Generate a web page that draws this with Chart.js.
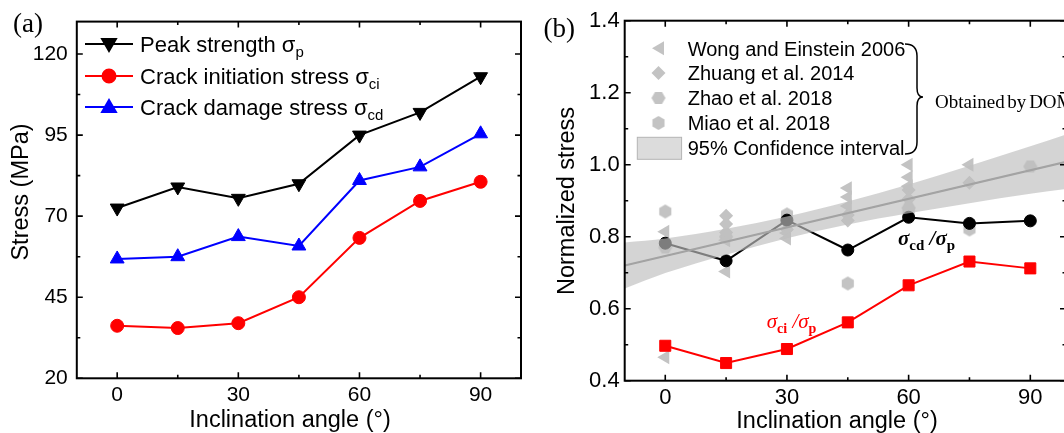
<!DOCTYPE html>
<html><head><meta charset="utf-8">
<script src="https://cdn.jsdelivr.net/npm/chart.js@4.4.0/dist/chart.umd.min.js"></script>
<style>
html,body{margin:0;padding:0;overflow:hidden;background:#fff;width:1064px;height:433px;}
#wa{position:absolute;left:0;top:0;width:530px;height:433px;}
#wb{position:absolute;left:530px;top:0;width:545px;height:433px;}
canvas{display:block;}
</style></head><body>
<div id="wa"><canvas id="ca" width="530" height="433" style="width:530px;height:433px"></canvas></div>
<div id="wb"><canvas id="cb" width="545" height="433" style="width:545px;height:433px"></canvas></div>
<script>
// ---------- data ----------
const angles = [0, 15, 30, 45, 60, 75, 90];
const peakStrength = [72.5, 79, 75.5, 80, 95, 102, 113];
const crackInitiation = [36.2, 35.5, 37.0, 45.0, 63.3, 74.7, 80.6];
const crackDamage = [56.8, 57.5, 63.7, 60.8, 81.0, 85.2, 95.4];

const ciRatio = [0.497, 0.449, 0.488, 0.562, 0.665, 0.731, 0.712];
const cdRatio = [0.782, 0.733, 0.846, 0.763, 0.854, 0.837, 0.844];

const wongX = [0, 0, 15, 15, 30, 30, 45, 45, 45, 60, 60, 60, 75];
const wongY = [0.814, 0.465, 0.79, 0.703, 0.81, 0.795, 0.935, 0.91, 0.885, 1.0, 0.965, 0.94, 1.0];
const zhuangX = [15, 15, 15, 30, 30, 45, 45, 60, 60, 75];
const zhuangY = [0.858, 0.835, 0.812, 0.84, 0.82, 0.86, 0.845, 0.93, 0.905, 0.95];
const zhaoX = [0, 15, 60, 90];
const zhaoY = [0.77, 0.80, 0.88, 0.995];
const miaoX = [0, 30, 45, 60, 75];
const miaoY = [0.87, 0.862, 0.67, 0.87, 0.82];

const bandX = [-10, 0, 15, 30, 45, 60, 75, 90, 100];
const bandUpper = [0.784, 0.795, 0.822, 0.856, 0.898, 0.945, 0.997, 1.051, 1.088];
const bandLower = [0.656, 0.699, 0.750, 0.796, 0.834, 0.865, 0.893, 0.919, 0.934];
const fitX = [-10, 100];
const fitY = [0.720, 1.011];

const xTicks = [0, 30, 60, 90];
const xMinorTicks = [15, 45, 75];
const aYTicks = [20, 45, 70, 95, 120];
const aYMinorTicks = [32.5, 57.5, 82.5, 107.5];
const bYTicks = [0.4, 0.6, 0.8, 1.0, 1.2, 1.4];
const bYMinorTicks = [0.5, 0.7, 0.9, 1.1, 1.3];

// ---------- helpers ----------
const SANS = '"Liberation Sans", Arial, sans-serif';
const SERIF = '"Liberation Serif", "Times New Roman", serif';
const GRAY = '#c3c3c3';
const zip = (xs, ys) => xs.map((x, i) => ({x: x, y: ys[i]}));

function hexImg(r, pointyTop, color) {
  const c = document.createElement('canvas');
  const s = Math.ceil(2 * r + 2);
  c.width = s; c.height = s;
  const g = c.getContext('2d');
  g.fillStyle = color;
  g.beginPath();
  for (let i = 0; i < 6; i++) {
    const ang = (pointyTop ? -Math.PI / 2 : 0) + i * Math.PI / 3;
    const px = s / 2 + r * Math.cos(ang), py = s / 2 + r * Math.sin(ang);
    if (i) g.lineTo(px, py); else g.moveTo(px, py);
  }
  g.closePath(); g.fill();
  return c;
}
const hexFlat = hexImg(7, false, GRAY);
const hexPointy = hexImg(7, true, GRAY);

function framePlugin(yMaj, yMin) {
  return {
    id: 'frameTicks',
    afterDatasetsDraw(chart) {
      const ctx = chart.ctx, a = chart.chartArea, xs = chart.scales.x, ys = chart.scales.y;
      ctx.save();
      ctx.strokeStyle = '#000';
      ctx.lineWidth = 1.6;
      ctx.beginPath();
      const seg = (x1, y1, x2, y2) => { ctx.moveTo(x1, y1); ctx.lineTo(x2, y2); };
      xTicks.forEach(v => { const p = xs.getPixelForValue(v); seg(p, a.bottom, p, a.bottom - 6); seg(p, a.top, p, a.top + 6); });
      xMinorTicks.forEach(v => { const p = xs.getPixelForValue(v); seg(p, a.bottom, p, a.bottom - 3.5); seg(p, a.top, p, a.top + 3.5); });
      yMaj.forEach(v => { const p = ys.getPixelForValue(v); seg(a.left, p, a.left + 6, p); seg(a.right, p, a.right - 6, p); });
      yMin.forEach(v => { const p = ys.getPixelForValue(v); seg(a.left, p, a.left + 3.5, p); seg(a.right, p, a.right - 3.5, p); });
      ctx.stroke();
      ctx.lineWidth = 2;
      ctx.strokeRect(a.left, a.top, a.right - a.left, a.bottom - a.top);
      ctx.restore();
    }
  };
}

function drawParts(ctx, x, parts) {
  let cx = x;
  parts.forEach(p => {
    ctx.font = p[1];
    ctx.fillStyle = p[3] || '#000';
    ctx.fillText(p[0], cx, p[2]);
    cx += ctx.measureText(p[0]).width;
  });
}

function xScale(h, font, max) {
  return {
    type: 'linear', min: -10, max: max,
    grid: {display: false, drawTicks: false}, border: {display: false},
    ticks: {font: font, color: '#000', padding: 4, autoSkip: false, maxRotation: 0},
    afterBuildTicks: s => { s.ticks = xTicks.map(v => ({value: v})); },
    afterFit: s => { s.height = h; }
  };
}

Chart.defaults.font.family = SANS;

// ---------- chart (a) ----------
const aLegend = {
  id: 'aLegend',
  afterDraw(chart) {
    const ctx = chart.ctx;
    ctx.save();
    const rows = [
      {y: 44, color: '#000', style: 'triangle', rot: 180, r: 8, label: 'Peak strength \u03c3', sub: 'p'},
      {y: 76, color: '#ff0000', style: 'circle', rot: 0, r: 6.5, label: 'Crack initiation stress \u03c3', sub: 'ci'},
      {y: 107, color: '#0000ff', style: 'triangle', rot: 0, r: 8, label: 'Crack damage stress \u03c3', sub: 'cd'}
    ];
    rows.forEach(r => {
      ctx.strokeStyle = r.color; ctx.fillStyle = r.color; ctx.lineWidth = 2;
      ctx.beginPath(); ctx.moveTo(85, r.y); ctx.lineTo(133, r.y); ctx.stroke();
      Chart.helpers.drawPoint(ctx, {pointStyle: r.style, rotation: r.rot, radius: r.r, borderWidth: 1}, 109, r.y + (r.style === 'triangle' ? (r.rot ? -1 : 1) : 0));
      ctx.textBaseline = 'alphabetic'; ctx.textAlign = 'left';
      drawParts(ctx, 140, [[r.label, '22px ' + SANS, r.y + 8, '#000'], [r.sub, '15px ' + SANS, r.y + 13, '#000']]);
    });
    ctx.fillStyle = '#000';
    ctx.font = '23.5px ' + SANS;
    ctx.textAlign = 'center'; ctx.textBaseline = 'alphabetic';
    ctx.fillText('Inclination angle (\u00b0)', 290, 427);
    ctx.save();
    ctx.translate(28, 192); ctx.rotate(-Math.PI / 2);
    ctx.fillText('Stress (MPa)', 0, 0);
    ctx.restore();
    ctx.textAlign = 'left';
    ctx.font = '27px ' + SERIF;
    ctx.fillText('(a)', 13, 32);
    ctx.restore();
  }
};

new Chart(document.getElementById('ca'), {
  type: 'scatter',
  data: {
    datasets: [
      {label: 'Peak strength', data: zip(angles, peakStrength), showLine: true, borderColor: '#000', backgroundColor: '#000',
       borderWidth: 2, pointStyle: 'triangle', rotation: 180, pointRadius: 8, pointBorderWidth: 1},
      {label: 'Crack initiation stress', data: zip(angles, crackInitiation), showLine: true, borderColor: '#ff0000', backgroundColor: '#ff0000',
       borderWidth: 2, pointStyle: 'circle', pointRadius: 6.5, pointBorderWidth: 1},
      {label: 'Crack damage stress', data: zip(angles, crackDamage), showLine: true, borderColor: '#0000ff', backgroundColor: '#0000ff',
       borderWidth: 2, pointStyle: 'triangle', pointRadius: 8, pointBorderWidth: 1}
    ]
  },
  options: {
    responsive: false, animation: false, devicePixelRatio: 1,
    layout: {padding: {left: 0, right: 7, top: 21, bottom: 0}},
    plugins: {legend: {display: false}, tooltip: {enabled: false}},
    scales: {
      x: xScale(54.7, {size: 21, family: SANS}, 100),
      y: {
        type: 'linear', min: 20, max: 130,
        grid: {display: false, drawTicks: false}, border: {display: false},
        ticks: {font: {size: 21, family: SANS}, color: '#000', padding: 9, autoSkip: false},
        afterBuildTicks: s => { s.ticks = aYTicks.map(v => ({value: v})); },
        afterFit: s => { s.width = 76.8; }
      }
    }
  },
  plugins: [framePlugin(aYTicks, aYMinorTicks), aLegend]
});

// ---------- chart (b) ----------
const bAnno = {
  id: 'bAnno',
  afterDraw(chart) {
    const ctx = chart.ctx;
    ctx.save();
    const rowY = [48.3, 73, 98, 123, 148];
    ctx.fillStyle = GRAY;
    Chart.helpers.drawPoint(ctx, {pointStyle: 'triangle', rotation: -90, radius: 8, borderWidth: 0}, 130, rowY[0]);
    Chart.helpers.drawPoint(ctx, {pointStyle: 'rectRot', rotation: 0, radius: 7, borderWidth: 0}, 128.5, rowY[1]);
    ctx.drawImage(hexFlat, 128.5 - hexFlat.width / 2, rowY[2] - hexFlat.height / 2);
    ctx.drawImage(hexPointy, 128.5 - hexPointy.width / 2, rowY[3] - hexPointy.height / 2);
    ctx.fillStyle = '#dcdcdc';
    ctx.fillRect(107.3, 137.3, 44.3, 22);
    ctx.strokeStyle = '#b4b4b4'; ctx.lineWidth = 1;
    ctx.strokeRect(107.3, 137.3, 44.3, 22);
    const labels = ['Wong and Einstein 2006', 'Zhuang et al. 2014', 'Zhao et al. 2018', 'Miao et al. 2018', '95% Confidence interval'];
    ctx.fillStyle = '#000';
    ctx.font = '20px ' + SANS;
    ctx.textAlign = 'left'; ctx.textBaseline = 'alphabetic';
    labels.forEach((t, i) => ctx.fillText(t, 157.7, rowY[i] + 7.2));
    // brace
    ctx.strokeStyle = '#000'; ctx.lineWidth = 1.5;
    ctx.beginPath();
    ctx.moveTo(375, 44);
    ctx.quadraticCurveTo(387, 44, 387, 56);
    ctx.lineTo(387, 88);
    ctx.quadraticCurveTo(387, 97, 393, 97);
    ctx.quadraticCurveTo(387, 97, 387, 106);
    ctx.lineTo(387, 142);
    ctx.quadraticCurveTo(387, 154, 375, 154);
    ctx.stroke();
    // Obtained by DOM
    ctx.fillStyle = '#000';
    ctx.font = '19px ' + SERIF;
    ctx.fillText('Obtained', 405, 108.3);
    const w1 = ctx.measureText('Obtained').width;
    ctx.fillText('by', 405 + w1 + 2.5, 108.3);
    const w2 = ctx.measureText('by').width;
    ctx.fillText('DOM', 405 + w1 + 2.5 + w2 + 3, 108.3);
    // ratio labels
    drawParts(ctx, 368, [
      ['\u03c3', 'bold italic 21px ' + SERIF, 245, '#000'],
      ['cd', 'bold 15px ' + SERIF, 250, '#000'],
      [' /', 'bold italic 21px ' + SERIF, 245, '#000'],
      ['\u03c3', 'bold italic 21px ' + SERIF, 245, '#000'],
      ['p', 'bold 15px ' + SERIF, 250, '#000']
    ]);
    drawParts(ctx, 236.7, [
      ['\u03c3', 'italic 21px ' + SERIF, 328, '#ff0000'],
      ['ci', 'bold 14px ' + SERIF, 333, '#ff0000'],
      [' /', 'italic 21px ' + SERIF, 328, '#ff0000'],
      ['\u03c3', 'italic 21px ' + SERIF, 328, '#ff0000'],
      ['p', 'bold 14px ' + SERIF, 333, '#ff0000']
    ]);
    ctx.fillStyle = '#000';
    ctx.font = '23.5px ' + SANS;
    ctx.textAlign = 'center';
    ctx.fillText('Inclination angle (\u00b0)', 307, 428);
    ctx.save();
    ctx.translate(44, 201); ctx.rotate(-Math.PI / 2);
    ctx.fillText('Normalized stress', 0, 0);
    ctx.restore();
    ctx.textAlign = 'left';
    ctx.font = '27px ' + SERIF;
    ctx.fillText('(b)', 13.6, 37);
    ctx.restore();
  }
};

new Chart(document.getElementById('cb'), {
  type: 'scatter',
  data: {
    datasets: [
      {label: 'fit', data: zip(fitX, fitY), showLine: true, borderColor: '#a3a3a3', borderWidth: 2, pointRadius: 0, order: 0},
      {label: 'upper', data: zip(bandX, bandUpper), showLine: true, borderWidth: 0, borderColor: 'rgba(0,0,0,0)', pointRadius: 0,
       tension: 0.4, cubicInterpolationMode: 'monotone', order: 1},
      {label: '95% Confidence interval', data: zip(bandX, bandLower), showLine: true, borderWidth: 0, borderColor: 'rgba(0,0,0,0)', pointRadius: 0,
       tension: 0.4, cubicInterpolationMode: 'monotone', fill: '-1', backgroundColor: 'rgba(190,190,190,0.66)', order: 1},
      {label: 'cd/p', data: zip(angles, cdRatio), showLine: true, borderColor: '#000', backgroundColor: '#000', borderWidth: 2,
       pointStyle: 'circle', pointRadius: 6, pointBorderWidth: 1, order: 2},
      {label: 'ci/p', data: zip(angles, ciRatio), showLine: true, borderColor: '#ff0000', backgroundColor: '#ff0000', borderWidth: 2,
       pointStyle: 'rect', pointRadius: 7.8, pointBorderWidth: 1, order: 2},
      {label: 'Wong and Einstein 2006', data: zip(wongX, wongY), backgroundColor: GRAY, borderColor: GRAY, pointStyle: 'triangle', rotation: -90, pointRadius: 8, pointBorderWidth: 0, order: 3},
      {label: 'Zhuang et al. 2014', data: zip(zhuangX, zhuangY), backgroundColor: GRAY, borderColor: GRAY, pointStyle: 'rectRot', pointRadius: 7, pointBorderWidth: 0, order: 3},
      {label: 'Zhao et al. 2018', data: zip(zhaoX, zhaoY), pointStyle: hexFlat, pointRadius: 7, order: 3},
      {label: 'Miao et al. 2018', data: zip(miaoX, miaoY), pointStyle: hexPointy, pointRadius: 7, order: 3}
    ]
  },
  options: {
    responsive: false, animation: false, devicePixelRatio: 1,
    layout: {padding: {left: 0, right: 9, top: 20.7, bottom: 0}},
    plugins: {legend: {display: false}, tooltip: {enabled: false}},
    scales: {
      x: xScale(52.3, {size: 22, family: SANS}, 98.8),
      y: {
        type: 'linear', min: 0.4, max: 1.4,
        grid: {display: false, drawTicks: false}, border: {display: false},
        ticks: {font: {size: 22, family: SANS}, color: '#000', padding: 5, autoSkip: false, callback: v => Number(v).toFixed(1)},
        afterBuildTicks: s => { s.ticks = bYTicks.map(v => ({value: v})); },
        afterFit: s => { s.width = 94.7; }
      }
    }
  },
  plugins: [framePlugin(bYTicks, bYMinorTicks), bAnno]
});
</script></body></html>
